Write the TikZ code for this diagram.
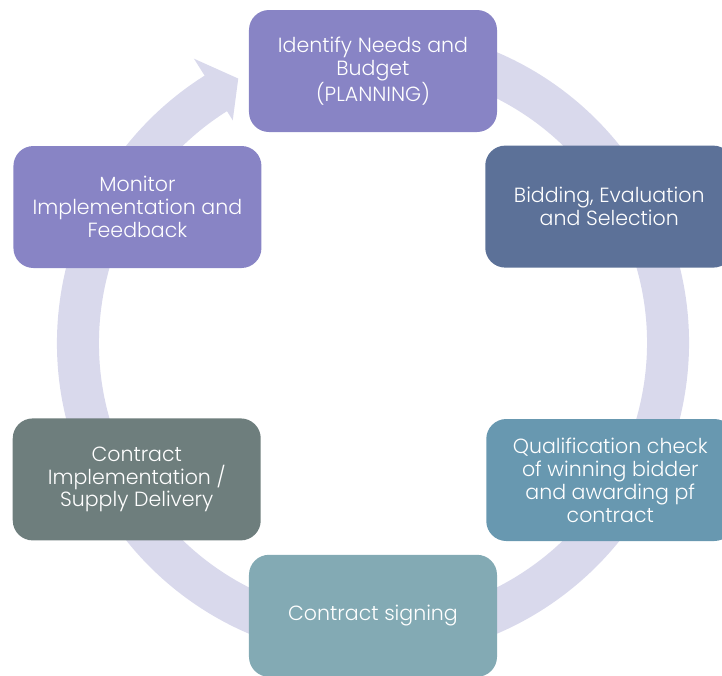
\documentclass[tikz,border=0pt]{standalone}
\usepackage{fontspec}
\usepackage{xcolor}
\usepackage{tikz}
\setmainfont{Poppins}[UprightFont=* Light]

\definecolor{ringcol}{HTML}{D9D9EC}
\definecolor{plancol}{HTML}{8884C5}
\definecolor{bidcol}{HTML}{5C7198}
\definecolor{qualcol}{HTML}{6898B0}
\definecolor{signcol}{HTML}{83AAB4}
\definecolor{implcol}{HTML}{6E7E7D}

\begin{document}
\begin{tikzpicture}[
  phase node/.style={rectangle,rounded corners=0.5cm,minimum width=6.2cm,
    minimum height=3.05cm,align=center,text=white,
    font=\fontsize{14.6}{16.3}\selectfont}]

  \useasboundingbox (-9.325,-8.3) rectangle (8.725,8.575);

  % the cycle ring with its arrow head
  \draw[ringcol,line width=1.05cm] (80:7.375) arc (80:-238.4:7.375);
  \fill[ringcol] (117:7.42) -- (122.2:8.4) -- (122.2:6.58) -- cycle;

  \node[phase node,fill=plancol] (plan) at (90:6.8)
    {Identify Needs and\\Budget\\(PLANNING)};
  \node[phase node,fill=bidcol] (bid) at (30:6.82)
    {Bidding, Evaluation\\and Selection};
  \node[phase node,fill=qualcol] (qual) at (-30:6.85)
    {Qualification check\\of winning bidder\\and awarding pf\\contract};
  \node[phase node,fill=signcol] (sign) at (-90:6.82)
    {Contract signing};
  \node[phase node,fill=implcol] (impl) at (-150:6.82)
    {Contract\\Implementation /\\Supply Delivery};
  \node[phase node,fill=plancol] (monitor) at (150:6.8)
    {Monitor\\Implementation and\\Feedback};

\end{tikzpicture}
\end{document}
